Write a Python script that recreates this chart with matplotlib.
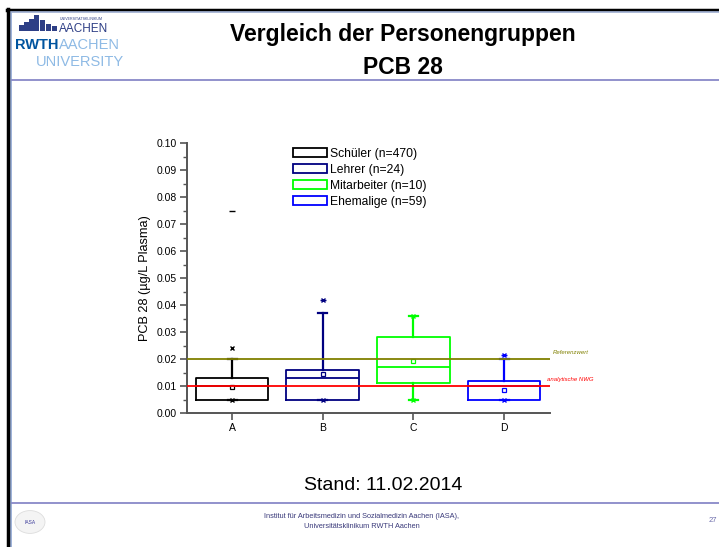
# Vergleich der Personengruppen - PCB 28 (Folie 27)
import matplotlib
matplotlib.use("Agg")
import matplotlib.pyplot as plt
from matplotlib.patches import Rectangle, Patch, Circle
from matplotlib.lines import Line2D

plt.rcParams['font.family'] = ['Liberation Sans', 'DejaVu Sans']

# =============================================================================
# DATEN
# =============================================================================
gruppen  = ['A', 'B', 'C', 'D']
legende  = ['Schüler (n=470)', 'Lehrer (n=24)', 'Mitarbeiter (n=10)', 'Ehemalige (n=59)']
farben   = ['#000000', '#000080', '#00ff00', '#0000ff']

q1       = [0.005, 0.005, 0.011, 0.005]
median   = [0.010, 0.013, 0.017, 0.010]
q3       = [0.013, 0.016, 0.028, 0.012]
whis_lo  = [0.005, 0.005, 0.005, 0.005]
whis_hi  = [0.020, 0.037, 0.036, 0.020]
mittel   = [0.0095, 0.0146, 0.0191, 0.0086]
p01      = [0.005, 0.005, 0.005, 0.005]      # x-Marker unten
p99      = [0.024, 0.042, 0.036, 0.0216]     # x-Marker oben
maxima   = [0.075, 0.042, 0.036, 0.0216]     # Strich-Marker

referenzwert = 0.02
nwg          = 0.01

W, H = 719, 547

def fx(x):
    return x / W

def fy(y):
    return 1 - y / H

fig = plt.figure(figsize=(W / 100, H / 100), dpi=100)

# =============================================================================
# FOLIENRAHMEN
# =============================================================================
fig.add_artist(Line2D([fx(7), 1], [fy(9.5), fy(9.5)], color='black', lw=2.5))
fig.add_artist(Line2D([fx(9), 1], [fy(12), fy(12)], color='#a9b9dc', lw=1.2))
fig.add_artist(Line2D([fx(7.5), fx(7.5)], [fy(9), 0], color='black', lw=2.5))
fig.add_artist(Rectangle((fx(9), 0), fx(3), fy(11), transform=fig.transFigure,
                         facecolor='#9fb3d9', edgecolor='none'))
fig.add_artist(Line2D([fx(12), 1], [fy(80), fy(80)], color='#7f7fc4', lw=1.2))
fig.add_artist(Line2D([fx(12), 1], [fy(503), fy(503)], color='#7f7fc4', lw=1.2))

# Logo (vereinfacht)
for x0, h in [(19, 6), (24, 9), (29, 12), (34, 16), (40, 11), (46, 7), (52, 5)]:
    fig.add_artist(Rectangle((fx(x0), fy(31)), fx(4.5), h / H, transform=fig.transFigure,
                             facecolor='#2e3f86', edgecolor='none'))
fig.text(fx(60), fy(19), 'UNIVERSITÄTSKLINIKUM', fontsize=2.6, color='#2e3f86', va='center')
fig.text(fx(59), fy(29), 'AACHEN', fontsize=8.5, color='#2e3f86', va='center')
fig.text(fx(15), fy(45), 'RWTH', fontsize=10.5, fontweight='bold', color='#00549f', va='center')
fig.text(fx(59), fy(45), 'AACHEN', fontsize=10.5, color='#8ebae5', va='center')
fig.text(fx(36), fy(62), 'UNIVERSITY', fontsize=10.5, color='#8ebae5', va='center')

# Titel
fig.text(fx(403), fy(35), 'Vergleich der Personengruppen', fontsize=16.5,
         fontweight='bold', ha='center', va='center')
fig.text(fx(403), fy(67), 'PCB 28', fontsize=16.5, fontweight='bold', ha='center', va='center')

# Stand + Fußzeile
fig.text(fx(383), fy(486), 'Stand: 11.02.2014', fontsize=14, ha='center', va='center')
fig.text(fx(362), fy(516), 'Institut für Arbeitsmedizin und Sozialmedizin Aachen (IASA),',
         fontsize=5.3, color='#3a3a7a', ha='center', va='center')
fig.text(fx(362), fy(527), 'Universitätsklinikum RWTH Aachen',
         fontsize=5.3, color='#3a3a7a', ha='center', va='center')
fig.text(fx(709), fy(521), '27', fontsize=5.5, color='#6a6aaa', va='center')
fig.add_artist(Circle((fx(30), fy(522)), 15 / W, transform=fig.transFigure,
                      facecolor='#f4f4f4', edgecolor='#dddddd', lw=0.6))
fig.text(fx(30), fy(522), 'IASA', fontsize=3.5, color='#3a3a9a', ha='center', va='center')

# =============================================================================
# BOXPLOT
# =============================================================================
ax = fig.add_axes([fx(186.7), fy(413), fx(549.5) - fx(186.7), fy(143.3) - fy(413)])

pos = list(range(1, len(gruppen) + 1))
for i, p in enumerate(pos):
    c = farben[i]
    stats = [dict(med=median[i], q1=q1[i], q3=q3[i], whislo=whis_lo[i],
                  whishi=whis_hi[i], mean=mittel[i], fliers=[])]
    ax.bxp(stats, positions=[p], widths=0.8, showmeans=True, showfliers=False,
           boxprops=dict(color=c, lw=1.3),
           medianprops=dict(color=c, lw=1.3),
           whiskerprops=dict(color=c, lw=1.6),
           capprops=dict(color=c, lw=1.6),
           capwidths=0.1,
           meanprops=dict(marker='s', markersize=3.2, markerfacecolor='white',
                          markeredgecolor=c, markeredgewidth=0.9))
    ax.plot([p, p], [p01[i], p99[i]], ls='none', marker='x', markersize=3.5,
            markeredgewidth=1.0, color=c, zorder=4)
    ax.plot([p], [maxima[i]], ls='none', marker='_', markersize=4,
            markeredgewidth=1.0, color=c, zorder=4)

ax.axhline(referenzwert, color='#808000', lw=1.3, zorder=5)
ax.axhline(nwg, color='#ff0000', lw=1.3, zorder=5)
ax.text(4.54, 0.0226, 'Referenzwert', fontsize=4.3, style='italic', color='#808000',
        va='center', clip_on=False)
ax.text(4.47, 0.0125, 'analytische NWG', fontsize=4.3, style='italic', color='#ff0000',
        va='center', clip_on=False)

ax.set_xlim(0.5, 4.5)
ax.set_ylim(0, 0.1)
ax.set_xticks(pos)
ax.set_xticklabels(gruppen)
ax.set_yticks([k / 100 for k in range(11)])
ax.set_yticklabels([f'{k / 100:.2f}' for k in range(11)])
ax.set_yticks([k / 200 for k in range(1, 20, 2)], minor=True)

for s in ['top', 'right']:
    ax.spines[s].set_visible(False)
for s in ['left', 'bottom']:
    ax.spines[s].set_color('#555555')
    ax.spines[s].set_linewidth(1.4)
ax.tick_params(axis='both', which='major', length=5, width=1.2, color='#555555',
               labelsize=7.5, pad=2)
ax.tick_params(axis='y', which='minor', length=3, width=1.0, color='#555555')
ax.set_ylabel('PCB 28 (µg/L Plasma)', fontsize=9.2, labelpad=4)

handles = [Patch(facecolor='white', edgecolor=c, lw=1.3) for c in farben]
ax.legend(handles, legende, loc='upper left', bbox_to_anchor=(0.2795, 1.0015), frameon=False,
          fontsize=8.7, handlelength=2.8, handleheight=0.85, handletextpad=0.3,
          labelspacing=0.33, borderaxespad=0)

fig.savefig('out.png', dpi=100)
